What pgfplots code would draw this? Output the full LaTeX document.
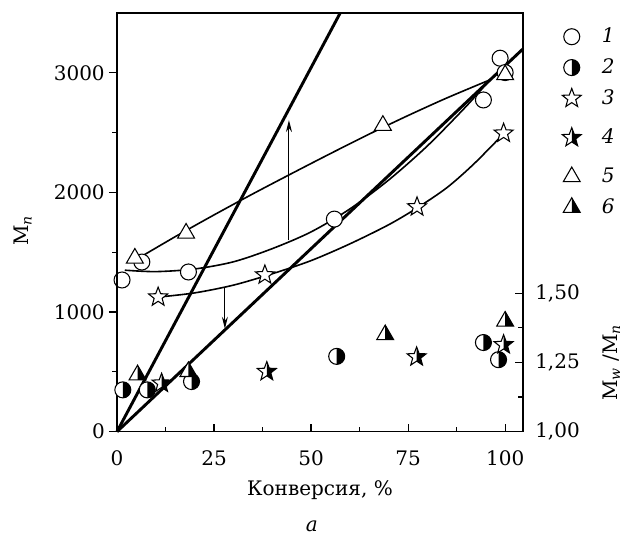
\documentclass[border=0pt]{standalone}
\usepackage{fontspec}
\setmainfont{DejaVu Serif}
\usepackage{pgfplots}
\pgfplotsset{compat=1.18}
\usetikzlibrary{arrows.meta}

\newcommand{\starpath}{%
 \pgfpathmoveto{\pgfqpointpolar{90}{\pgfplotmarksize}}%
 \pgfpathlineto{\pgfqpointpolar{126}{0.42\pgfplotmarksize}}%
 \pgfpathlineto{\pgfqpointpolar{162}{\pgfplotmarksize}}%
 \pgfpathlineto{\pgfqpointpolar{198}{0.42\pgfplotmarksize}}%
 \pgfpathlineto{\pgfqpointpolar{234}{\pgfplotmarksize}}%
 \pgfpathlineto{\pgfqpointpolar{270}{0.42\pgfplotmarksize}}%
 \pgfpathlineto{\pgfqpointpolar{306}{\pgfplotmarksize}}%
 \pgfpathlineto{\pgfqpointpolar{342}{0.42\pgfplotmarksize}}%
 \pgfpathlineto{\pgfqpointpolar{18}{\pgfplotmarksize}}%
 \pgfpathlineto{\pgfqpointpolar{54}{0.42\pgfplotmarksize}}%
 \pgfpathclose}
\newcommand{\tripath}{%
 \pgfpathmoveto{\pgfqpointpolar{90}{1.16\pgfplotmarksize}}%
 \pgfpathlineto{\pgfqpointpolar{210}{1.16\pgfplotmarksize}}%
 \pgfpathlineto{\pgfqpointpolar{330}{1.16\pgfplotmarksize}}%
 \pgfpathclose}

\pgfdeclareplotmark{ocirc}{%
 \pgfsetfillcolor{white}\pgfpathcircle{\pgfpointorigin}{\pgfplotmarksize}\pgfusepathqfillstroke}
\pgfdeclareplotmark{hcirc}{%
 \pgfsetfillcolor{white}\pgfpathcircle{\pgfpointorigin}{\pgfplotmarksize}\pgfusepathqfill
 \pgfsetfillcolor{black}%
 \pgfpathmoveto{\pgfqpoint{0pt}{\pgfplotmarksize}}%
 \pgfpatharc{90}{-90}{\pgfplotmarksize}%
 \pgfpathclose\pgfusepathqfill
 \pgfpathcircle{\pgfpointorigin}{\pgfplotmarksize}\pgfusepathqstroke}
\pgfdeclareplotmark{ostar}{%
 \pgfsetfillcolor{white}\starpath\pgfusepathqfillstroke}
\pgfdeclareplotmark{hstar}{%
 \pgfsetfillcolor{white}\starpath\pgfusepathqfill
 \begin{pgfscope}%
 \pgfpathrectangle{\pgfqpoint{0pt}{-2\pgfplotmarksize}}{\pgfqpoint{2\pgfplotmarksize}{4\pgfplotmarksize}}\pgfusepathqclip
 \pgfsetfillcolor{black}\starpath\pgfusepathqfill
 \end{pgfscope}%
 \starpath\pgfusepathqstroke}
\pgfdeclareplotmark{otri}{%
 \pgfsetfillcolor{white}\tripath\pgfusepathqfillstroke}
\pgfdeclareplotmark{htri}{%
 \pgfsetfillcolor{white}\tripath\pgfusepathqfill
 \pgfsetfillcolor{black}%
 \pgfpathmoveto{\pgfqpointpolar{90}{1.16\pgfplotmarksize}}%
 \pgfpathlineto{\pgfqpointpolar{330}{1.16\pgfplotmarksize}}%
 \pgfpathlineto{\pgfqpoint{0pt}{-0.58\pgfplotmarksize}}%
 \pgfpathclose\pgfusepathqfill
 \tripath\pgfusepathqstroke}

\pgfplotsset{
 base/.style={at={(0pt,0pt)}, anchor=south west, scale only axis,
  width=304.5pt, height=314pt, xmin=0, xmax=104.6, clip=false,
  axis line style={line width=1.1pt},
  every tick/.style={black, line width=0.9pt},
  major tick length=6pt, minor tick length=3.5pt,
  /pgf/number format/assume math mode=true,
  /pgf/number format/1000 sep={},
  tick label style={font=\fontsize{15}{18}\selectfont},
  label style={font=\fontsize{15}{18}\selectfont},
 },
 c1/.style={only marks, mark=ocirc, mark size=6pt, mark options={draw=black, line width=0.8pt}},
 c2/.style={only marks, mark=hcirc, mark size=6pt, mark options={draw=black, line width=0.8pt}},
 c3/.style={only marks, mark=ostar, mark size=7.5pt, mark options={draw=black, line width=0.8pt}},
 c4/.style={only marks, mark=hstar, mark size=7.5pt, mark options={draw=black, line width=0.8pt}},
 c5/.style={only marks, mark=otri, mark size=6.3pt, mark options={draw=black, line width=0.8pt}},
 c6/.style={only marks, mark=htri, mark size=6.3pt, mark options={draw=black, line width=0.8pt}},
}

\begin{document}
\fontsize{15}{18}\selectfont
\begin{tikzpicture}
\path[use as bounding box] (-87.75pt,-77.5pt) rectangle (380.25pt,323.75pt);
% ---------- M_n axis ----------
\begin{axis}[base, ymin=0, ymax=3500,
  xtick={0,25,50,75,100}, minor xtick={12.5,37.5,62.5,87.5},
  ytick={0,1000,2000,3000}, minor ytick={500,1500,2500},
  xtick pos=bottom, ytick pos=left, tick align=inside,
  major y tick style={xshift=-6pt}, minor y tick style={xshift=-3.5pt},
  yticklabel style={xshift=-4pt}, xticklabel style={yshift=-9pt},
  xlabel={Конверсия, \%},
  xlabel style={at={(axis description cs:0.5,-0.139)}, anchor=center},
  ylabel={M\textsubscript{\itshape n}},
  ylabel style={at={(axis description cs:-0.2315,0.48)}, anchor=center},
]
% theoretical lines
\addplot[black, line width=2.2pt] coordinates {(0,0) (57.5,3500)};
\addplot[black, line width=2.2pt] coordinates {(0,0) (104.6,3200)};
% fitted curves
\addplot[black, line width=1.2pt, smooth] coordinates {
 (5,1440) (15,1630) (25,1812) (35,1988) (45,2158) (55,2325) (65,2488) (75,2643) (85,2790) (96,2940)};
\addplot[black, line width=1.2pt, smooth] coordinates {
 (2,1350) (10,1338) (20,1360) (30,1420) (40,1530) (50,1670) (60,1862) (70,2104) (80,2390) (90,2721) (96,2940)};
\addplot[black, line width=1.2pt, smooth] coordinates {
 (10.6,1125) (20,1160) (30,1225) (40,1320) (50,1430) (60,1570) (70,1730) (77.3,1870) (85,2040) (92,2240) (99.7,2494)};
% arrows
\addplot[black, line width=0.8pt, -{Stealth[length=9pt,width=4.5pt]}] coordinates {(44.3,1600) (44.3,2605)};
\addplot[black, line width=0.8pt, -{Stealth[length=9pt,width=4.5pt]}] coordinates {(27.8,1209) (27.8,860)};
% data
\addplot[c1] coordinates {(1.3,1268) (6.4,1418) (18.4,1335) (56,1777) (94.4,2773) (98.7,3122) (100,3002)};
\addplot[c3] coordinates {(10.6,1125) (38.1,1310) (77.3,1879) (99.6,2495)};
\addplot[c5] coordinates {(4.6,1450) (17.8,1659) (68.5,2560) (100,2983)};
\node at (axis description cs:0.48,-0.227) {\itshape a};
\end{axis}
% ---------- Mw/Mn axis ----------
\begin{axis}[base, ymin=1, ymax=2.5125,
  xtick=\empty, ytick={1,1.25,1.5}, minor ytick={1.125,1.375},
  ytick pos=right, tick align=inside,
  yticklabel style={/pgf/number format/fixed, /pgf/number format/fixed zerofill,
    /pgf/number format/precision=2, /pgf/number format/use comma, xshift=4pt},
  ylabel={M\textsubscript{\itshape w} /M\textsubscript{\itshape n}},
  ylabel style={at={(axis description cs:1.218,0.165)}, anchor=center, rotate=0},
  legend image code/.code={%
    \path[draw=none, fill=none] (-9pt,-8pt) rectangle (9pt,8pt);
    \draw[#1] plot coordinates {(0pt,0pt)};},
  legend style={at={(axis description cs:1.08,0.978)}, anchor=north west,
    draw=none, fill=none, row sep=5.75pt, column sep=5.5pt,
    font=\fontsize{15}{18}\selectfont\itshape},
  legend cell align=left,
]
\addlegendimage{c1}\addlegendentry{1}
\addlegendimage{c2}\addlegendentry{2}
\addlegendimage{c3}\addlegendentry{3}
\addlegendimage{c4}\addlegendentry{4}
\addlegendimage{c5}\addlegendentry{5}
\addlegendimage{c6}\addlegendentry{6}
\addplot[c2, forget plot] coordinates {(1.5,1.151) (7.8,1.151) (19.2,1.181) (56.6,1.272) (94.4,1.322) (98.3,1.26)};
\addplot[c4, forget plot] coordinates {(11.5,1.175) (38.6,1.217) (77.2,1.27) (99.6,1.314)};
\addplot[c6, forget plot] coordinates {(5.3,1.205) (18.4,1.217) (69.1,1.35) (100,1.399)};
\end{axis}
\end{tikzpicture}
\end{document}
